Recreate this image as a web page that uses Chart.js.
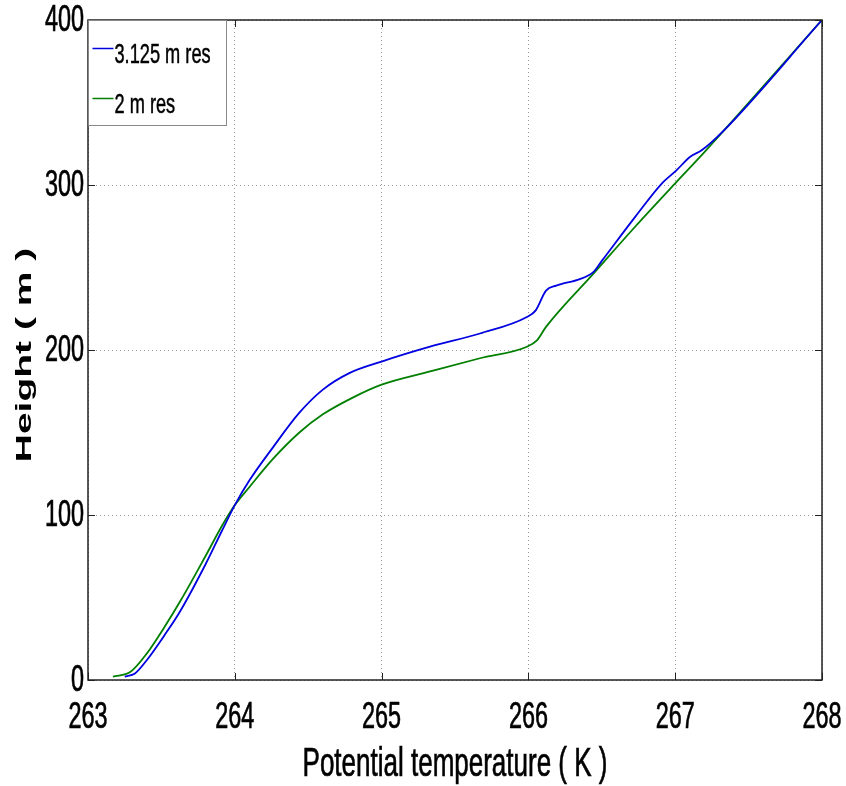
<!DOCTYPE html>
<html>
<head>
<meta charset="utf-8">
<script src="https://cdn.jsdelivr.net/npm/chart.js@4"></script>
<style>
  body { margin: 0; background: #fff; }
  #wrap { width: 846px; height: 786px; }
</style>
</head>
<body>
<div id="wrap"><canvas id="grafico" width="846" height="786"></canvas></div>
<script>
// dados
const temp_azul = [263.25, 263.32, 263.40, 263.52, 263.63, 263.80, 263.91, 264.00, 264.10, 264.26, 264.44, 264.60, 264.78, 265.00, 265.33, 265.67, 265.99, 266.05, 266.12, 266.19, 266.35, 266.44, 266.50, 266.73, 266.91, 267.01, 267.10, 267.18, 267.32, 268.00]
const altura_azul = [2, 4, 12, 27, 42, 70, 90, 106, 121, 141, 162, 176, 186, 193, 202, 210, 220, 224, 236, 239, 243, 247, 254, 281, 301, 309, 317, 321, 332, 400]

const temp_verde = [263.17, 263.29, 263.40, 263.52, 263.63, 263.80, 263.91, 264.00, 264.10, 264.26, 264.44, 264.60, 264.80, 265.00, 265.33, 265.67, 265.99, 266.06, 266.12, 266.44, 266.73, 267.00, 267.21, 268.00]
const altura_verde = [2, 5, 16, 32, 48, 75, 93, 106, 117, 134, 150, 161, 171, 179, 187, 195, 202, 206, 214, 246, 275, 301, 321, 400]

const nomes = ['3.125 m res', '2 m res']
const cores = ['#0000e0', '#007f00']
const ticks_x = [263, 264, 265, 266, 267, 268]
const ticks_y = [0, 100, 200, 300, 400]
const titulo_x = 'Potential temperature ( K )'
const titulo_y = 'Height ( m )'

const fonte = "'Liberation Sans', Arial, sans-serif"
const aperto = 0.65   // o texto da figura original e estreito

function pares(xs, ys){
    let p = []
    for(let i = 0; i < xs.length; i++){
        p.push({x: xs[i], y: ys[i]})
    }
    return p
}

function texto_estreito(c, txt, x, y, alinhar){
    c.save()
    c.translate(x, y)
    c.scale(aperto, 1)
    c.textAlign = alinhar
    c.fillText(txt, 0, 0)
    c.strokeText(txt, 0, 0)
    c.restore()
}

// moldura, ticks internos, rotulos e legenda estilo matlab
const moldura = {
    id: 'moldura',
    afterDatasetsDraw(chart){
        const c = chart.ctx
        const a = chart.chartArea
        const sx = chart.scales.x
        const sy = chart.scales.y
        c.save()
        c.strokeStyle = '#222'
        c.lineWidth = 1
        c.setLineDash([])
        c.beginPath()
        ticks_x.forEach(t => {
            let px = Math.round(sx.getPixelForValue(t)) + 0.5
            c.moveTo(px, a.bottom); c.lineTo(px, a.bottom - 7)
            c.moveTo(px, a.top); c.lineTo(px, a.top + 7)
        })
        ticks_y.forEach(t => {
            let py = Math.round(sy.getPixelForValue(t)) + 0.5
            c.moveTo(a.left, py); c.lineTo(a.left + 7, py)
            c.moveTo(a.right, py); c.lineTo(a.right - 7, py)
        })
        c.stroke()
        c.lineWidth = 1.5
        c.strokeRect(a.left, a.top, a.right - a.left, a.bottom - a.top)

        // rotulos dos eixos
        c.fillStyle = '#000'
        c.strokeStyle = '#000'
        c.lineWidth = 0.7
        c.font = '36px ' + fonte
        c.textBaseline = 'alphabetic'
        ticks_x.forEach(t => {
            texto_estreito(c, String(t), sx.getPixelForValue(t), a.bottom + 48, 'center')
        })
        c.textBaseline = 'middle'
        ticks_y.forEach(t => {
            texto_estreito(c, String(t), a.left - 4, sy.getPixelForValue(t) + 1, 'right')
        })
        c.font = '40px ' + fonte
        c.textBaseline = 'alphabetic'
        texto_estreito(c, titulo_x, (a.left + a.right) / 2, 776, 'center')

        c.save()
        c.translate(31, (a.top + a.bottom) / 2 + 5)
        c.rotate(-Math.PI / 2)
        c.scale(1, 0.56)
        c.font = 'bold 39px ' + fonte
        c.textAlign = 'center'
        c.fillText(titulo_y, 0, 0)
        c.restore()

        // legenda
        const lx = a.left + 0.5, ly = a.top + 0.5, lw = 138, lh = 105
        c.fillStyle = '#fff'
        c.fillRect(lx, ly, lw, lh)
        c.strokeStyle = '#888'
        c.lineWidth = 1
        c.strokeRect(lx, ly, lw, lh)
        c.font = '28px ' + fonte
        c.textBaseline = 'alphabetic'
        const ys = [ly + 28, ly + 78]
        chart.data.datasets.forEach((d, i) => {
            c.strokeStyle = d.borderColor
            c.lineWidth = 1.5
            c.beginPath()
            c.moveTo(lx + 4, ys[i]); c.lineTo(lx + 25, ys[i])
            c.stroke()
            c.fillStyle = '#000'
            c.strokeStyle = '#000'
            c.lineWidth = 0.5
            texto_estreito(c, d.label, lx + 26, ys[i] + 14, 'left')
        })
        c.restore()
    }
}

const ctx = document.getElementById('grafico')

var grafico = new Chart(ctx, {
    type: 'scatter',
    data: {
        datasets: [{
            label: nomes[0],
            data: pares(temp_azul, altura_azul),
            borderColor: cores[0],
            borderWidth: 1.8,
            showLine: true,
            pointRadius: 0,
            cubicInterpolationMode: 'monotone'
        }, {
            label: nomes[1],
            data: pares(temp_verde, altura_verde),
            borderColor: cores[1],
            borderWidth: 1.8,
            showLine: true,
            pointRadius: 0,
            cubicInterpolationMode: 'monotone'
        }]
    },
    options: {
        responsive: false,
        animation: false,
        layout: { padding: { left: 0, top: 20, right: 24, bottom: 0 } },
        plugins: { legend: { display: false }, tooltip: { enabled: false } },
        scales: {
            x: {
                type: 'linear',
                min: 263, max: 268,
                afterBuildTicks: s => { s.ticks = ticks_x.map(v => ({value: v})) },
                afterFit: s => { s.height = 106 },
                grid: { color: '#999', drawTicks: false },
                border: { display: false, dash: [1, 3] },
                ticks: { display: false }
            },
            y: {
                type: 'linear',
                min: 0, max: 400,
                afterBuildTicks: s => { s.ticks = ticks_y.map(v => ({value: v})) },
                afterFit: s => { s.width = 88 },
                grid: { color: '#999', drawTicks: false },
                border: { display: false, dash: [1, 3] },
                ticks: { display: false }
            }
        }
    },
    plugins: [moldura]
})
</script>
</body>
</html>
